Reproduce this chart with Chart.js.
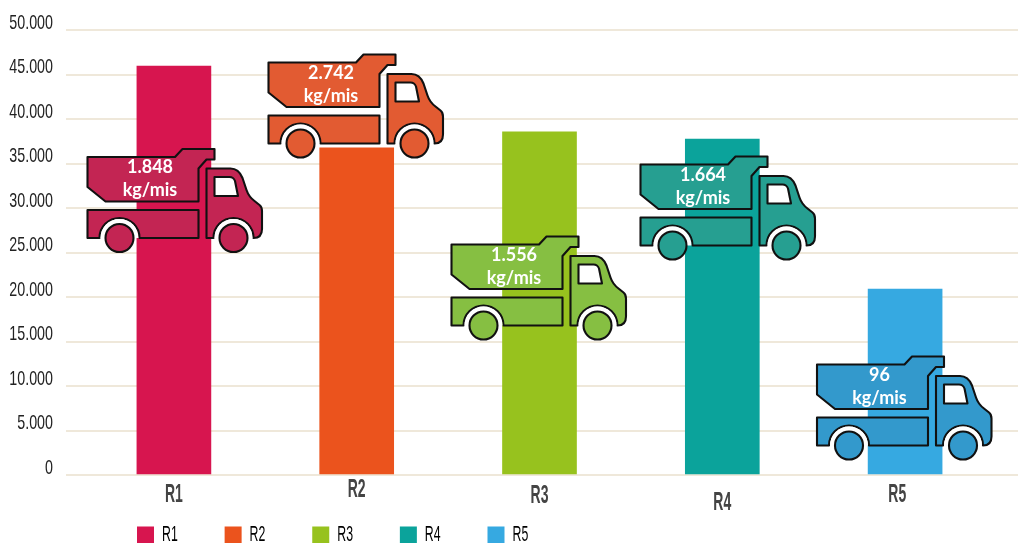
<!DOCTYPE html>
<html>
<head>
<meta charset="utf-8">
<style>html,body{margin:0;padding:0;background:#fff}#wrap{position:relative;width:1018px;height:543px}</style>
<script src="https://cdn.jsdelivr.net/npm/chart.js@4/dist/chart.umd.min.js"></script>
</head>
<body>
<div id="wrap"><canvas id="c" width="1018" height="543"></canvas></div>
<script>
const categories = ['R1', 'R2', 'R3', 'R4', 'R5'];
const values = [45950, 36750, 38550, 37750, 20900];
const rateValues = ['1.848', '2.742', '1.556', '1.664', '96'];
const rateUnit = 'kg/mis';
const barColors = ['#D7154F', '#EB531D', '#97C21E', '#0BA39B', '#36A9E1'];
const truckColors = ['#C32553', '#E25B32', '#86BF42', '#269F91', '#3399CC'];
const truckLeft = [87.5, 268.5, 451.5, 640.5, 817];
const truckTop = [149, 54.5, 236.5, 156.5, 356.5];
const xLabelDrop = [40, 30, 42, 56, 40];
const xLabelPad = ['', '', '', '', '    '];
const GRID = '#EFE8DA';
const NARROW = '"Liberation Sans"';

function truckPaths() {
  const bed = new Path2D();
  [[0,8],[87.5,8],[95,0],[127,0],[127,10.5],[119,10.5],[111,19.5],[111,52.5],[18,52.5],[0,38]]
    .forEach((p,i)=> i ? bed.lineTo(p[0],p[1]) : bed.moveTo(p[0],p[1]));
  bed.closePath();
  const chassis = new Path2D();
  chassis.moveTo(0,61); chassis.lineTo(111,61); chassis.lineTo(111,89); chassis.lineTo(52,89);
  chassis.arc(32,89,20,0,Math.PI,true);
  chassis.lineTo(0,89); chassis.closePath();
  const cab = new Path2D();
  cab.moveTo(119,19.5); cab.lineTo(143,19.5);
  cab.bezierCurveTo(150,19.5,153,24,155,29);
  cab.lineTo(159,41); cab.bezierCurveTo(161,47,163,49,167,52);
  cab.lineTo(172,56); cab.quadraticCurveTo(174.5,58,174.5,62);
  cab.lineTo(174.5,80); cab.quadraticCurveTo(174.5,89,166,89);
  cab.arc(146,89,20,0,Math.PI,true);
  cab.lineTo(119,89); cab.closePath();
  const win = new Path2D();
  win.moveTo(127,28); win.lineTo(142,28); win.quadraticCurveTo(146,28,147.5,32);
  win.lineTo(150.5,47); win.lineTo(127,47); win.closePath();
  return {bed, chassis, cab, win};
}
const shapes = truckPaths();

const trucksPlugin = {
  id: 'trucks',
  afterDatasetsDraw(chart) {
    const ctx = chart.ctx;
    categories.forEach((_, i) => {
      ctx.save();
      ctx.translate(truckLeft[i], truckTop[i]);
      ctx.lineWidth = 2.1;
      ctx.strokeStyle = '#111';
      ctx.lineJoin = 'round';
      ctx.fillStyle = truckColors[i];
      [shapes.bed, shapes.chassis, shapes.cab].forEach(p => { ctx.fill(p); ctx.stroke(p); });
      ctx.fillStyle = '#fff';
      ctx.fill(shapes.win); ctx.stroke(shapes.win);
      [32, 146].forEach(cx => {
        ctx.beginPath(); ctx.arc(cx, 89, 19, Math.PI, 0); ctx.closePath();
        ctx.fillStyle = '#fff'; ctx.fill();
        ctx.beginPath(); ctx.arc(cx, 89, 14, 0, Math.PI * 2);
        ctx.fillStyle = truckColors[i]; ctx.fill(); ctx.stroke();
      });
      ctx.fillStyle = '#fff';
      ctx.font = 'bold 18px Lato, "Open Sans", sans-serif';
      ctx.textAlign = 'center';
      ctx.textBaseline = 'middle';
      ctx.fillText(rateValues[i], 62.5, 18.5);
      ctx.fillText(rateUnit, 62.5, 41.5);
      ctx.restore();
    });
  }
};

const layoutPlugin = {
  id: 'layoutTweaks',
  beforeInit(chart) {
    // The axis typeface of the reference is tall and condensed: squeeze text set in NARROW horizontally.
    const ctx = chart.ctx, fill = ctx.fillText.bind(ctx);
    ctx.fillText = function (text, x, y, w) {
      if (!ctx.font.includes('Liberation Sans')) return fill(text, x, y, w);
      const size = parseFloat(ctx.font.match(/([\d.]+)px/)[1]);
      ctx.save();
      ctx.translate(ctx.textAlign === 'left' ? x - 3 : x, y);
      ctx.scale(size <= 21 ? 0.68 : 0.56, 1);
      fill(text, 0, 0);
      ctx.restore();
    };
  },
  afterLayout(chart) {
    const l = chart.legend;
    const pad = l.options.labels.padding;
    l.left = 137 - pad;
    l.top = 524 - pad;
  },
  beforeDatasetsDraw(chart) {
    const {ctx, chartArea, scales} = chart;
    ctx.save();
    ctx.strokeStyle = GRID; ctx.lineWidth = 2;
    scales.y.ticks.forEach(t => {
      const y = Chart.helpers._alignPixel(chart, scales.y.getPixelForValue(t.value), 2);
      ctx.beginPath(); ctx.moveTo(chartArea.right - 1, y); ctx.lineTo(1018, y); ctx.stroke();
    });
    ctx.restore();
  }
};

new Chart(document.getElementById('c'), {
  type: 'bar',
  data: {
    labels: categories,
    datasets: [{ data: values, backgroundColor: barColors, barThickness: 74, borderWidth: 0 }]
  },
  plugins: [layoutPlugin, trucksPlugin],
  options: {
    responsive: false,
    animation: false,
    layout: { padding: { top: 30, right: 21.5, left: 0, bottom: 0 } },
    plugins: {
      tooltip: { enabled: false },
      legend: {
        position: 'bottom',
        align: 'start',
        maxHeight: 5,
        labels: {
          boxWidth: 17, boxHeight: 17, padding: 31.5,
          color: '#333',
          font: { family: NARROW, size: 22 },
          generateLabels: () => categories.map((t, i) => ({
            text: t, fillStyle: barColors[i], strokeStyle: barColors[i], lineWidth: 0, index: i, hidden: false
          }))
        }
      }
    },
    scales: {
      x: {
        afterFit(s) { s.height = 63; },
        grid: { display: false, drawTicks: false },
        border: { display: false },
        ticks: {
          padding: 0,
          color: '#444',
          maxRotation: 0,
          autoSkip: false,
          callback(v, i) { return categories[i] + xLabelPad[i]; },
          font: ctx => ({ family: NARROW, size: 25, weight: 'bold', lineHeight: (xLabelDrop[ctx.index] || 40) + 'px' })
        }
      },
      y: {
        min: 0, max: 50000,
        afterFit(s) { s.width = 82.5; },
        border: { display: false },
        grid: { color: GRID, lineWidth: 2, tickLength: 16.5, tickColor: GRID },
        ticks: {
          stepSize: 5000,
          padding: 13,
          labelOffset: -7,
          color: '#222',
          font: { family: NARROW, size: 21 },
          callback: v => String(v).replace(/\B(?=(\d{3})+$)/g, '.')
        }
      }
    }
  }
});
</script>
</body>
</html>
